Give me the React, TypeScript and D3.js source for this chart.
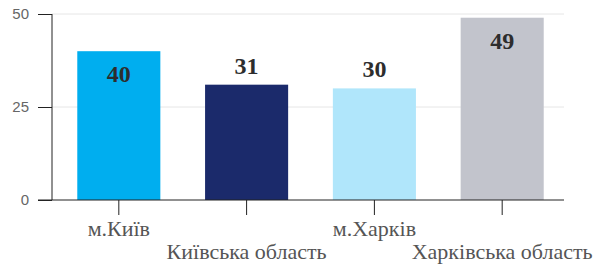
import React, { useEffect, useRef } from "react";
import * as d3 from "d3";

const width = 595;
const height = 264;
const margin = { top: 14, right: 31, bottom: 64, left: 52 };

const categories = ["м.Київ", "Київська область", "м.Харків", "Харківська область"];
const values = [40, 31, 30, 49];
const colors = ["#00aeef", "#1b2a6b", "#b0e6fb", "#c2c4cc"];
const yTicks = [0, 25, 50];

const App = () => {
  const ref = useRef<SVGSVGElement>(null);

  useEffect(() => {
    const svg = d3.select(ref.current);
    svg.selectAll("*").remove();

    const x = d3
      .scaleBand<string>()
      .domain(categories)
      .range([margin.left + 1, 568])
      .paddingInner(0.35)
      .paddingOuter(0.19);

    const y = d3
      .scaleLinear()
      .domain([0, 50])
      .range([height - margin.bottom, margin.top]);

    const right = width - margin.right;

    // grid
    svg
      .append("g")
      .selectAll("line")
      .data(yTicks.filter((t) => t > 0))
      .join("line")
      .attr("x1", margin.left)
      .attr("x2", right)
      .attr("y1", (d) => y(d))
      .attr("y2", (d) => y(d))
      .attr("stroke", "#e6e6e6")
      .attr("stroke-width", 1);

    // bars
    svg
      .append("g")
      .selectAll("rect")
      .data(values)
      .join("rect")
      .attr("x", (_, i) => x(categories[i])!)
      .attr("width", x.bandwidth())
      .attr("y", (d) => y(d))
      .attr("height", (d) => y(0) - y(d))
      .attr("fill", (_, i) => colors[i]);

    // value labels: inside the tall bars, above the short ones
    svg
      .append("g")
      .selectAll("text")
      .data(values)
      .join("text")
      .attr("x", (_, i) => x(categories[i])! + x.bandwidth() / 2)
      .attr("y", (d) => (d >= 35 ? y(d) + 31 : y(d) - 11))
      .attr("text-anchor", "middle")
      .attr("font-family", "'Liberation Serif', 'Times New Roman', serif")
      .attr("font-weight", "bold")
      .attr("font-size", 24)
      .attr("fill", "#2d2d2d")
      .text((d) => d);

    // y axis
    const yAxis = svg
      .append("g")
      .attr("transform", `translate(${margin.left},0)`)
      .call(d3.axisLeft(y).tickValues(yTicks).tickSize(14).tickPadding(9));
    yAxis.select(".domain").attr("stroke", "#222").attr("d", `M0,${y(0)}V${y(50)}`);
    yAxis.selectAll(".tick line").attr("stroke", "#222");
    yAxis
      .selectAll(".tick text")
      .attr("font-family", "'Liberation Sans', Arial, sans-serif")
      .attr("font-size", 15)
      .attr("fill", "#666");

    // x axis
    const xAxis = svg
      .append("g")
      .attr("transform", `translate(0,${y(0)})`)
      .call(d3.axisBottom(x).tickSize(15).tickSizeOuter(0));
    xAxis
      .select(".domain")
      .attr("stroke", "#222")
      .attr("d", `M${margin.left - 14},0H${right}`);
    xAxis.selectAll(".tick line").attr("stroke", "#222");
    xAxis
      .selectAll(".tick text")
      .attr("font-family", "'Liberation Serif', 'Times New Roman', serif")
      .attr("font-size", 22)
      .attr("fill", "#555")
      .attr("dy", null)
      .attr("y", (_, i) => (i % 2 === 0 ? 36 : 59));
  }, []);

  return <svg ref={ref} width={width} height={height} style={{ display: "block", position: "absolute", left: 0, top: 0 }} />;
};

export default App;
